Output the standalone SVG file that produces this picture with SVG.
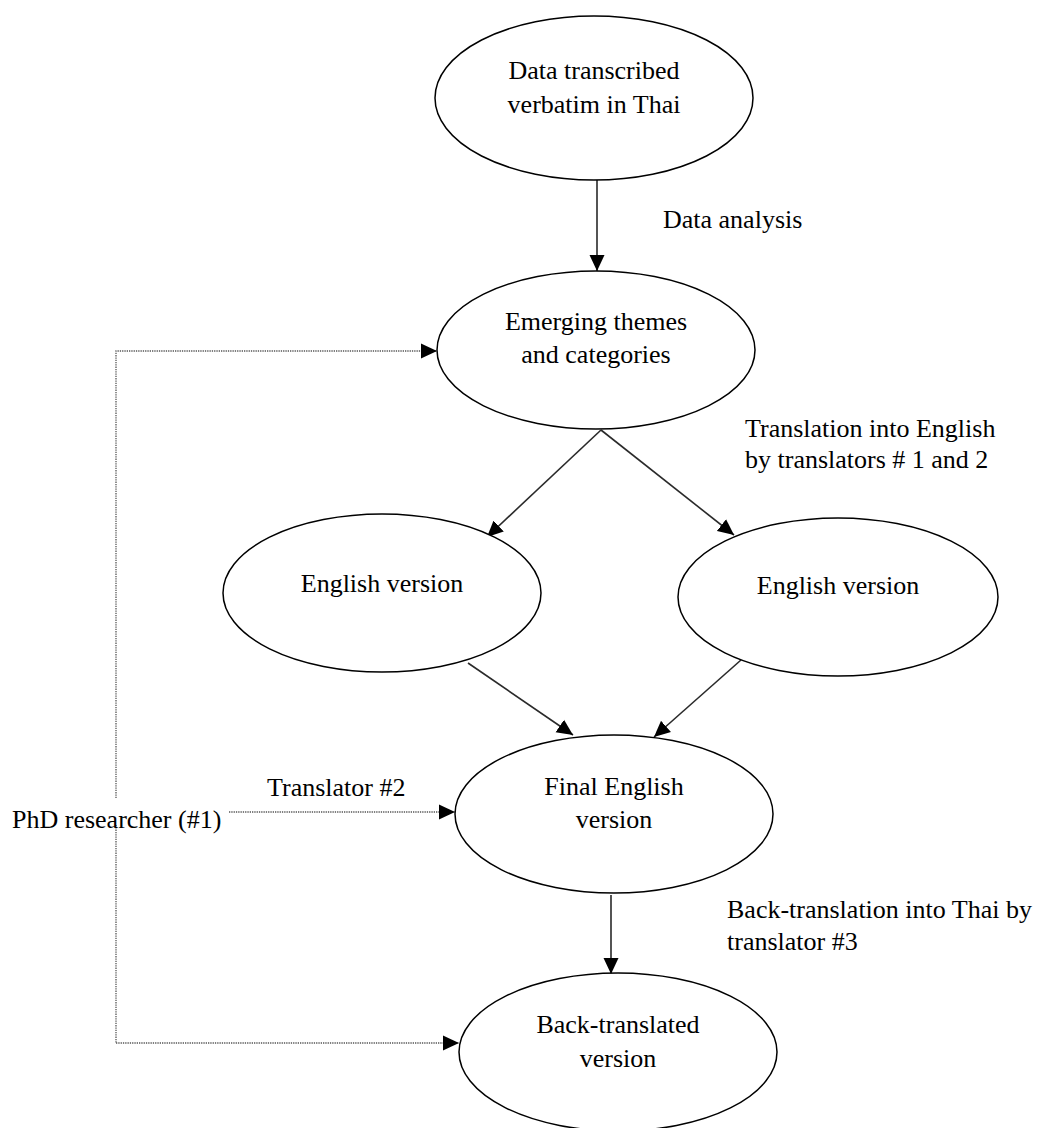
<svg xmlns="http://www.w3.org/2000/svg" width="1042" height="1128" viewBox="0 0 1042 1128">
  <defs>
    <style>
      .node ellipse { fill: #ffffff; stroke: #000000; stroke-width: 1.5; }
      text { font-family: "Liberation Serif", "Times New Roman", serif; font-size: 26px; fill: #000000; }
      .ctext { text-anchor: middle; }
      .solid { stroke: #2a2a2a; stroke-width: 1.6; fill: none; marker-end: url(#arrow); }
      .dotted { stroke: #555555; stroke-width: 1.3; stroke-dasharray: 1.3 1; fill: none; }
      .dotarrow { marker-end: url(#arrow); }
    </style>
    <marker id="arrow" markerUnits="userSpaceOnUse" markerWidth="16" markerHeight="16" refX="16" refY="8" orient="auto">
      <path d="M0,0.5 L16,8 L0,15.5 Z" fill="#000000"/>
    </marker>
  </defs>
  <rect width="1042" height="1128" fill="#ffffff"/>

  <g id="connectors">
    <line class="solid" x1="597" y1="180" x2="597" y2="271"/>
    <line class="solid" x1="601" y1="430" x2="487" y2="537"/>
    <line class="solid" x1="601" y1="430" x2="734" y2="535"/>
    <line class="solid" x1="468" y1="663" x2="573" y2="735"/>
    <line class="solid" x1="741" y1="660" x2="654" y2="737"/>
    <line class="solid" x1="611" y1="895" x2="611" y2="974"/>
    <polyline class="dotted dotarrow" points="116,798 116,351 437,351"/>
    <line class="dotted" x1="116" y1="825" x2="116" y2="1043"/>
    <line class="dotted dotarrow" x1="116" y1="1043" x2="459" y2="1043"/>
    <line class="dotted dotarrow" x1="229" y1="812" x2="455" y2="812"/>
  </g>

  <g id="node-transcribed" class="node">
    <ellipse cx="594" cy="98" rx="159" ry="82"/>
    <text class="ctext" x="594" y="79">Data transcribed</text>
    <text class="ctext" x="594" y="113">verbatim in Thai</text>
  </g>
  <g id="node-emerging" class="node">
    <ellipse cx="596" cy="350" rx="159" ry="79"/>
    <text class="ctext" x="596" y="330">Emerging themes</text>
    <text class="ctext" x="596" y="363">and categories</text>
  </g>
  <g id="node-english-1" class="node">
    <ellipse cx="382" cy="593" rx="159" ry="79"/>
    <text class="ctext" x="382" y="592">English version</text>
  </g>
  <g id="node-english-2" class="node">
    <ellipse cx="838" cy="597" rx="160" ry="79"/>
    <text class="ctext" x="838" y="594">English version</text>
  </g>
  <g id="node-final" class="node">
    <ellipse cx="614" cy="814" rx="159" ry="79"/>
    <text class="ctext" x="614" y="795">Final English</text>
    <text class="ctext" x="614" y="828">version</text>
  </g>
  <g id="node-back" class="node">
    <ellipse cx="618" cy="1052" rx="159" ry="79"/>
    <text class="ctext" x="618" y="1033">Back-translated</text>
    <text class="ctext" x="618" y="1067">version</text>
  </g>
  <g id="node-phd">
    <text x="12" y="828">PhD researcher (#1)</text>
  </g>

  <g id="labels">
    <text x="663" y="228">Data analysis</text>
    <text x="745" y="437">Translation into English</text>
    <text x="745" y="468">by translators # 1 and 2</text>
    <text x="267" y="796">Translator #2</text>
    <text x="727" y="918">Back-translation into Thai by</text>
    <text x="727" y="950">translator #3</text>
  </g>
</svg>
